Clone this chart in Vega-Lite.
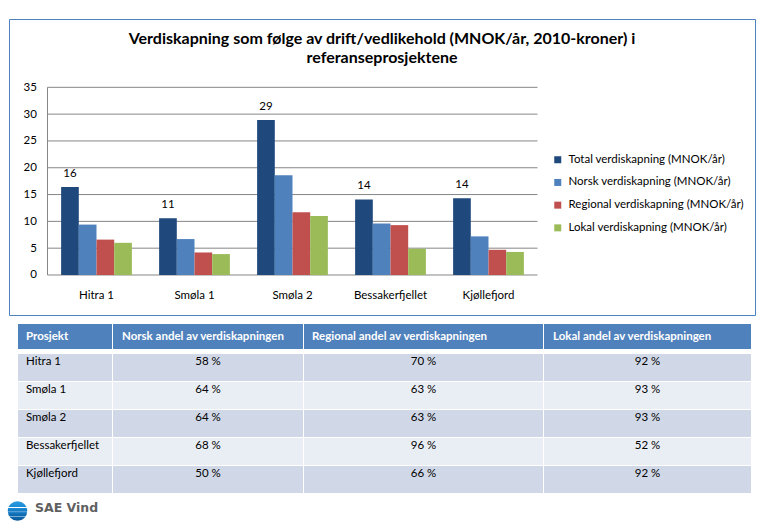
{
  "$schema": "https://vega.github.io/schema/vega-lite/v6.json",
  "padding": {"left": 7, "top": 18, "right": 0, "bottom": 0},
  "background": "white",
  "spacing": 8,
  "resolve": {"scale": {"color": "independent"}, "legend": {"color": "independent"}},
  "config": {
    "font": "Lato",
    "view": {"stroke": null},
    "axis": {"labelFont": "Lato", "labelColor": "#000000"},
    "text": {"font": "Lato"}
  },
  "datasets": {
    "verdier": [
      {"prosjekt": "Hitra 1", "serie": "Total verdiskapning (MNOK/år)", "verdi": 16.4},
      {"prosjekt": "Hitra 1", "serie": "Norsk verdiskapning (MNOK/år)", "verdi": 9.4},
      {"prosjekt": "Hitra 1", "serie": "Regional verdiskapning (MNOK/år)", "verdi": 6.6},
      {"prosjekt": "Hitra 1", "serie": "Lokal verdiskapning (MNOK/år)", "verdi": 6.0},
      {"prosjekt": "Smøla 1", "serie": "Total verdiskapning (MNOK/år)", "verdi": 10.6},
      {"prosjekt": "Smøla 1", "serie": "Norsk verdiskapning (MNOK/år)", "verdi": 6.7},
      {"prosjekt": "Smøla 1", "serie": "Regional verdiskapning (MNOK/år)", "verdi": 4.2},
      {"prosjekt": "Smøla 1", "serie": "Lokal verdiskapning (MNOK/år)", "verdi": 3.9},
      {"prosjekt": "Smøla 2", "serie": "Total verdiskapning (MNOK/år)", "verdi": 28.9},
      {"prosjekt": "Smøla 2", "serie": "Norsk verdiskapning (MNOK/år)", "verdi": 18.6},
      {"prosjekt": "Smøla 2", "serie": "Regional verdiskapning (MNOK/år)", "verdi": 11.7},
      {"prosjekt": "Smøla 2", "serie": "Lokal verdiskapning (MNOK/år)", "verdi": 11.0},
      {"prosjekt": "Bessakerfjellet", "serie": "Total verdiskapning (MNOK/år)", "verdi": 14.1},
      {"prosjekt": "Bessakerfjellet", "serie": "Norsk verdiskapning (MNOK/år)", "verdi": 9.6},
      {"prosjekt": "Bessakerfjellet", "serie": "Regional verdiskapning (MNOK/år)", "verdi": 9.3},
      {"prosjekt": "Bessakerfjellet", "serie": "Lokal verdiskapning (MNOK/år)", "verdi": 4.9},
      {"prosjekt": "Kjøllefjord", "serie": "Total verdiskapning (MNOK/år)", "verdi": 14.3},
      {"prosjekt": "Kjøllefjord", "serie": "Norsk verdiskapning (MNOK/år)", "verdi": 7.2},
      {"prosjekt": "Kjøllefjord", "serie": "Regional verdiskapning (MNOK/år)", "verdi": 4.7},
      {"prosjekt": "Kjøllefjord", "serie": "Lokal verdiskapning (MNOK/år)", "verdi": 4.3}
    ],
    "rutenett": [
      {"verdi": 0}, {"verdi": 5}, {"verdi": 10}, {"verdi": 15},
      {"verdi": 20}, {"verdi": 25}, {"verdi": 30}, {"verdi": 35}
    ],
    "tabell": [
      {"prosjekt": "Hitra 1", "norsk": "58 %", "regional": "70 %", "lokal": "92 %"},
      {"prosjekt": "Smøla 1", "norsk": "64 %", "regional": "63 %", "lokal": "93 %"},
      {"prosjekt": "Smøla 2", "norsk": "64 %", "regional": "63 %", "lokal": "93 %"},
      {"prosjekt": "Bessakerfjellet", "norsk": "68 %", "regional": "96 %", "lokal": "52 %"},
      {"prosjekt": "Kjøllefjord", "norsk": "50 %", "regional": "66 %", "lokal": "92 %"}
    ],
    "overskrift": [
      {"k1": "Prosjekt", "k2": "Norsk andel av verdiskapningen", "k3": "Regional andel av verdiskapningen", "k4": "Lokal andel av verdiskapningen"}
    ],
    "logo": [{"navn": "SAE Vind"}]
  },
  "vconcat": [
    {
      "width": 746,
      "height": 296,
      "view": {"stroke": "#4f81bd", "strokeWidth": 1},
      "title": {
        "text": ["Verdiskapning som følge av drift/vedlikehold (MNOK/år, 2010-kroner) i", "referanseprosjektene"],
        "font": "Lato",
        "fontSize": 16,
        "fontWeight": "bold",
        "color": "#000000",
        "anchor": "middle",
        "offset": -47,
        "lineHeight": 19
      },
      "layer": [
        {
          "data": {"name": "rutenett"},
          "mark": {"type": "rule", "color": "#868686", "strokeWidth": 1},
          "encoding": {
            "y": {"field": "verdi", "type": "quantitative"},
            "x": {"datum": "Hitra 1", "bandPosition": 0},
            "x2": {"datum": "Kjøllefjord", "bandPosition": 1}
          }
        },
        {
          "data": {"values": [{"akse": "y"}]},
          "mark": {"type": "rule", "color": "#868686", "strokeWidth": 1},
          "encoding": {
            "x": {"datum": "Hitra 1", "bandPosition": 0},
            "y": {"datum": 0},
            "y2": {"datum": 35}
          }
        },
        {
          "data": {"name": "verdier"},
          "mark": {"type": "bar"},
          "encoding": {
            "x": {
              "field": "prosjekt", "type": "nominal", "sort": null,
              "scale": {"domain": ["Hitra 1", "Smøla 1", "Smøla 2", "Bessakerfjellet", "Kjøllefjord"], "range": [38.5, 528.5], "paddingInner": 0, "paddingOuter": 0},
              "axis": {"orient": "bottom", "offset": -40, "title": null, "domain": false, "ticks": false, "tickSize": 0, "grid": false, "labelPadding": 14, "labelFontSize": 11.5, "labelAngle": 0, "labelAlign": "center", "labelBaseline": "top"}
            },
            "xOffset": {
              "field": "serie", "type": "nominal", "sort": null,
              "scale": {"domain": ["Total verdiskapning (MNOK/år)", "Norsk verdiskapning (MNOK/år)", "Regional verdiskapning (MNOK/år)", "Lokal verdiskapning (MNOK/år)"], "paddingInner": 0, "paddingOuter": 0.77}
            },
            "y": {
              "field": "verdi", "type": "quantitative",
              "scale": {"domain": [-7.46, 47.74], "nice": false, "zero": false},
              "axis": {"orient": "left", "offset": -38.3, "values": [0, 5, 10, 15, 20, 25, 30, 35], "title": null, "domain": false, "ticks": false, "tickSize": 0, "grid": false, "labelPadding": 11, "labelFontSize": 11.5}
            },
            "y2": {"datum": 0},
            "color": {
              "field": "serie", "type": "nominal", "sort": null,
              "scale": {"domain": ["Total verdiskapning (MNOK/år)", "Norsk verdiskapning (MNOK/år)", "Regional verdiskapning (MNOK/år)", "Lokal verdiskapning (MNOK/år)"], "range": ["#1f497d", "#4f81bd", "#c0504d", "#9bbb59"]},
              "legend": {"orient": "none", "legendX": 543, "legendY": 135, "title": null, "symbolType": "square", "symbolSize": 49, "symbolStrokeWidth": 0, "labelFontSize": 11.5, "labelFont": "Lato", "labelColor": "#000000", "labelLimit": 300, "rowPadding": 9.7, "labelOffset": 5}
            }
          }
        },
        {
          "data": {"name": "verdier"},
          "transform": [{"filter": "datum.serie == 'Total verdiskapning (MNOK/år)'"}],
          "mark": {"type": "text", "baseline": "middle", "dy": -13.5, "fontSize": 11.5, "color": "#000000"},
          "encoding": {
            "x": {"field": "prosjekt", "type": "nominal", "sort": null},
            "xOffset": {
              "field": "serie", "type": "nominal", "sort": null,
              "scale": {"domain": ["Total verdiskapning (MNOK/år)", "Norsk verdiskapning (MNOK/år)", "Regional verdiskapning (MNOK/år)", "Lokal verdiskapning (MNOK/år)"], "paddingInner": 0, "paddingOuter": 0.77}
            },
            "y": {"field": "verdi", "type": "quantitative"},
            "text": {"field": "verdi", "type": "quantitative", "format": ".0f"}
          }
        }
      ]
    },
    {
      "spacing": 5,
      "vconcat": [
        {
          "spacing": 1,
          "hconcat": [
            {"width": 8, "height": 25, "data": {"values": []}, "mark": "rect"},
            {"width": 94, "height": 25, "view": {"fill": "#4f81bd", "stroke": null}, "data": {"name": "overskrift"},
             "mark": {"type": "text", "align": "left", "dx": -39, "color": "white", "fontWeight": "bold", "fontSize": 11.5},
             "encoding": {"text": {"field": "k1"}}},
            {"width": 190, "height": 25, "view": {"fill": "#4f81bd", "stroke": null}, "data": {"name": "overskrift"},
             "mark": {"type": "text", "align": "left", "dx": -86, "color": "white", "fontWeight": "bold", "fontSize": 11.5},
             "encoding": {"text": {"field": "k2"}}},
            {"width": 239, "height": 25, "view": {"fill": "#4f81bd", "stroke": null}, "data": {"name": "overskrift"},
             "mark": {"type": "text", "align": "left", "dx": -111.5, "color": "white", "fontWeight": "bold", "fontSize": 11.5},
             "encoding": {"text": {"field": "k3"}}},
            {"width": 207, "height": 25, "view": {"fill": "#4f81bd", "stroke": null}, "data": {"name": "overskrift"},
             "mark": {"type": "text", "align": "left", "dx": -94.5, "color": "white", "fontWeight": "bold", "fontSize": 11.5},
             "encoding": {"text": {"field": "k4"}}}
          ]
        },
        {
          "spacing": 1,
          "hconcat": [
            {"width": 8, "height": 139, "data": {"values": []}, "mark": "rect"},
            {
              "width": 94, "height": 139, "data": {"name": "tabell"},
              "layer": [
                {"mark": {"type": "rect"},
                 "encoding": {
                   "y": {"field": "prosjekt", "type": "nominal", "sort": null, "scale": {"domain": ["Hitra 1", "Smøla 1", "Smøla 2", "Bessakerfjellet", "Kjøllefjord"], "paddingInner": 0.04, "paddingOuter": 0}, "axis": null},
                   "color": {"field": "prosjekt", "type": "nominal", "scale": {"domain": ["Hitra 1", "Smøla 1", "Smøla 2", "Bessakerfjellet", "Kjøllefjord"], "range": ["#d0d8e8", "#e9edf4", "#d0d8e8", "#e9edf4", "#d0d8e8"]}, "legend": null}
                 }},
                {"mark": {"type": "text", "align": "left", "dx": -39, "dy": -5.5, "fontSize": 11.5, "color": "#000000"},
                 "encoding": {
                   "y": {"field": "prosjekt", "type": "nominal", "sort": null},
                   "text": {"field": "prosjekt"}
                 }}
              ]
            },
            {
              "width": 190, "height": 139, "data": {"name": "tabell"},
              "layer": [
                {"mark": {"type": "rect"},
                 "encoding": {
                   "y": {"field": "prosjekt", "type": "nominal", "sort": null, "scale": {"domain": ["Hitra 1", "Smøla 1", "Smøla 2", "Bessakerfjellet", "Kjøllefjord"], "paddingInner": 0.04, "paddingOuter": 0}, "axis": null},
                   "color": {"field": "prosjekt", "type": "nominal", "scale": {"domain": ["Hitra 1", "Smøla 1", "Smøla 2", "Bessakerfjellet", "Kjøllefjord"], "range": ["#d0d8e8", "#e9edf4", "#d0d8e8", "#e9edf4", "#d0d8e8"]}, "legend": null}
                 }},
                {"mark": {"type": "text", "align": "center", "dy": -5.5, "fontSize": 11.5, "color": "#000000"},
                 "encoding": {
                   "y": {"field": "prosjekt", "type": "nominal", "sort": null},
                   "text": {"field": "norsk"}
                 }}
              ]
            },
            {
              "width": 239, "height": 139, "data": {"name": "tabell"},
              "layer": [
                {"mark": {"type": "rect"},
                 "encoding": {
                   "y": {"field": "prosjekt", "type": "nominal", "sort": null, "scale": {"domain": ["Hitra 1", "Smøla 1", "Smøla 2", "Bessakerfjellet", "Kjøllefjord"], "paddingInner": 0.04, "paddingOuter": 0}, "axis": null},
                   "color": {"field": "prosjekt", "type": "nominal", "scale": {"domain": ["Hitra 1", "Smøla 1", "Smøla 2", "Bessakerfjellet", "Kjøllefjord"], "range": ["#d0d8e8", "#e9edf4", "#d0d8e8", "#e9edf4", "#d0d8e8"]}, "legend": null}
                 }},
                {"mark": {"type": "text", "align": "center", "dy": -5.5, "fontSize": 11.5, "color": "#000000"},
                 "encoding": {
                   "y": {"field": "prosjekt", "type": "nominal", "sort": null},
                   "text": {"field": "regional"}
                 }}
              ]
            },
            {
              "width": 207, "height": 139, "data": {"name": "tabell"},
              "layer": [
                {"mark": {"type": "rect"},
                 "encoding": {
                   "y": {"field": "prosjekt", "type": "nominal", "sort": null, "scale": {"domain": ["Hitra 1", "Smøla 1", "Smøla 2", "Bessakerfjellet", "Kjøllefjord"], "paddingInner": 0.04, "paddingOuter": 0}, "axis": null},
                   "color": {"field": "prosjekt", "type": "nominal", "scale": {"domain": ["Hitra 1", "Smøla 1", "Smøla 2", "Bessakerfjellet", "Kjøllefjord"], "range": ["#d0d8e8", "#e9edf4", "#d0d8e8", "#e9edf4", "#d0d8e8"]}, "legend": null}
                 }},
                {"mark": {"type": "text", "align": "center", "dy": -5.5, "fontSize": 11.5, "color": "#000000"},
                 "encoding": {
                   "y": {"field": "prosjekt", "type": "nominal", "sort": null},
                   "text": {"field": "lokal"}
                 }}
              ]
            }
          ]
        }
      ]
    },
    {
      "width": 17, "height": 18, "data": {"name": "logo"},
      "layer": [
        {"mark": {"type": "point", "shape": "circle", "filled": true, "size": 380, "opacity": 1, "strokeWidth": 0,
                  "fill": {"gradient": "linear", "x1": 0, "y1": 0, "x2": 0, "y2": 1,
                           "stops": [
                             {"offset": 0, "color": "#2b9be0"},
                             {"offset": 0.3, "color": "#1b8ad4"},
                             {"offset": 0.32, "color": "#ffffff"},
                             {"offset": 0.36, "color": "#1b8ad4"},
                             {"offset": 0.52, "color": "#1479c2"},
                             {"offset": 0.54, "color": "#ffffff"},
                             {"offset": 0.58, "color": "#1479c2"},
                             {"offset": 0.74, "color": "#0f68ae"},
                             {"offset": 0.76, "color": "#ffffff"},
                             {"offset": 0.8, "color": "#0f68ae"},
                             {"offset": 1, "color": "#0a5697"}
                           ]}},
         "encoding": {}},
        {"mark": {"type": "text", "align": "left", "baseline": "middle", "dx": 17.5, "dy": -3, "font": "DejaVu Sans", "fontWeight": "bold", "fontSize": 12.5, "color": "#606060"},
         "encoding": {"text": {"field": "navn"}}}
      ]
    }
  ]
}
